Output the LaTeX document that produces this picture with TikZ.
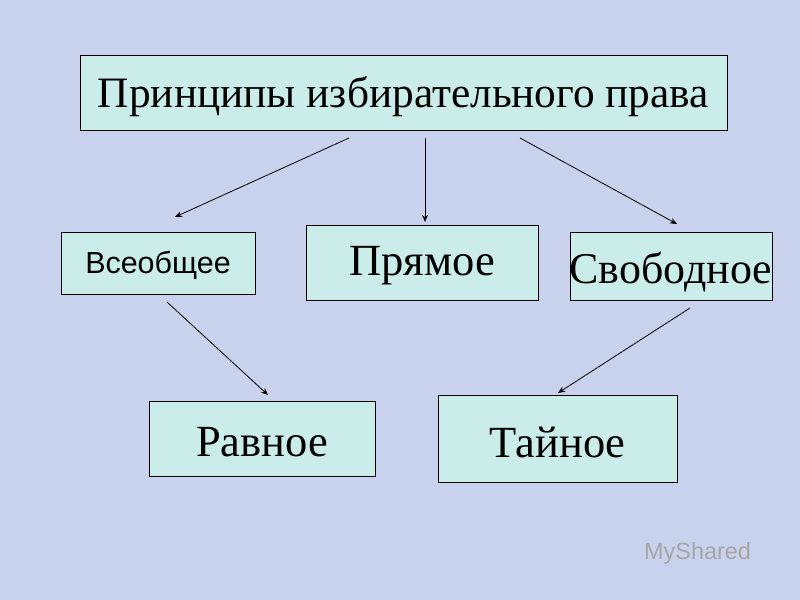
\documentclass[tikz,border=0pt]{standalone}
\usepackage{fontspec}
\usetikzlibrary{arrows.meta}
\setmainfont{Liberation Serif}
\newfontfamily\logofont{Liberation Sans}
\definecolor{bg}{HTML}{C9D2EC}
\definecolor{boxfill}{HTML}{CBEDEA}
\begin{document}
\begin{tikzpicture}[x=0.03cm,y=-0.03cm,
  box/.style={draw=black,line width=0.7pt,fill=boxfill,inner sep=0pt},
  arr/.style={-{Stealth[length=6pt,width=5pt]},line width=0.7pt}]
\fill[bg] (0,0) rectangle (800,600);
\useasboundingbox (0,0) rectangle (800,600);
\node[box,minimum width=647*0.03cm,minimum height=75*0.03cm] (top) at (403.5,92.5) {};
\node at (403.5,97) {\fontsize{37}{40}\selectfont Принципы избирательного права};
\node[box,minimum width=194*0.03cm,minimum height=62*0.03cm] (v) at (158,263) {};
\node at (158,265) {\logofont\fontsize{26}{30}\selectfont Всеобщее};
\node[box,minimum width=232*0.03cm,minimum height=75*0.03cm] (p) at (422,262.5) {};
\node at (422,266) {\fontsize{38}{42}\selectfont Прямое};
\node[box,minimum width=202*0.03cm,minimum height=68*0.03cm] (s) at (671,266) {};
\node at (671,272) {\fontsize{37.5}{42}\selectfont Свободное};
\node[box,minimum width=226*0.03cm,minimum height=75*0.03cm] (r) at (262,438.5) {};
\node at (262,442) {\fontsize{38}{42}\selectfont Равное};
\node[box,minimum width=239*0.03cm,minimum height=87*0.03cm] (t) at (557.5,438.5) {};
\node at (557.5,442) {\fontsize{38}{42}\selectfont Тайное};
\coordinate (a1) at (349,138); \coordinate (b1) at (175,217);
\coordinate (a2) at (425,138); \coordinate (b2) at (425,222);
\coordinate (a3) at (520,138); \coordinate (b3) at (677,224);
\coordinate (a4) at (167,302); \coordinate (b4) at (268,395);
\coordinate (a5) at (690,308); \coordinate (b5) at (558,393);
\foreach \i in {1,...,5} \draw[arr] (a\i) -- (b\i);
\node[text=gray!70,anchor=west] (logo) at (640,553) {\logofont\fontsize{20}{24}\selectfont MyShared};
\end{tikzpicture}
\end{document}
